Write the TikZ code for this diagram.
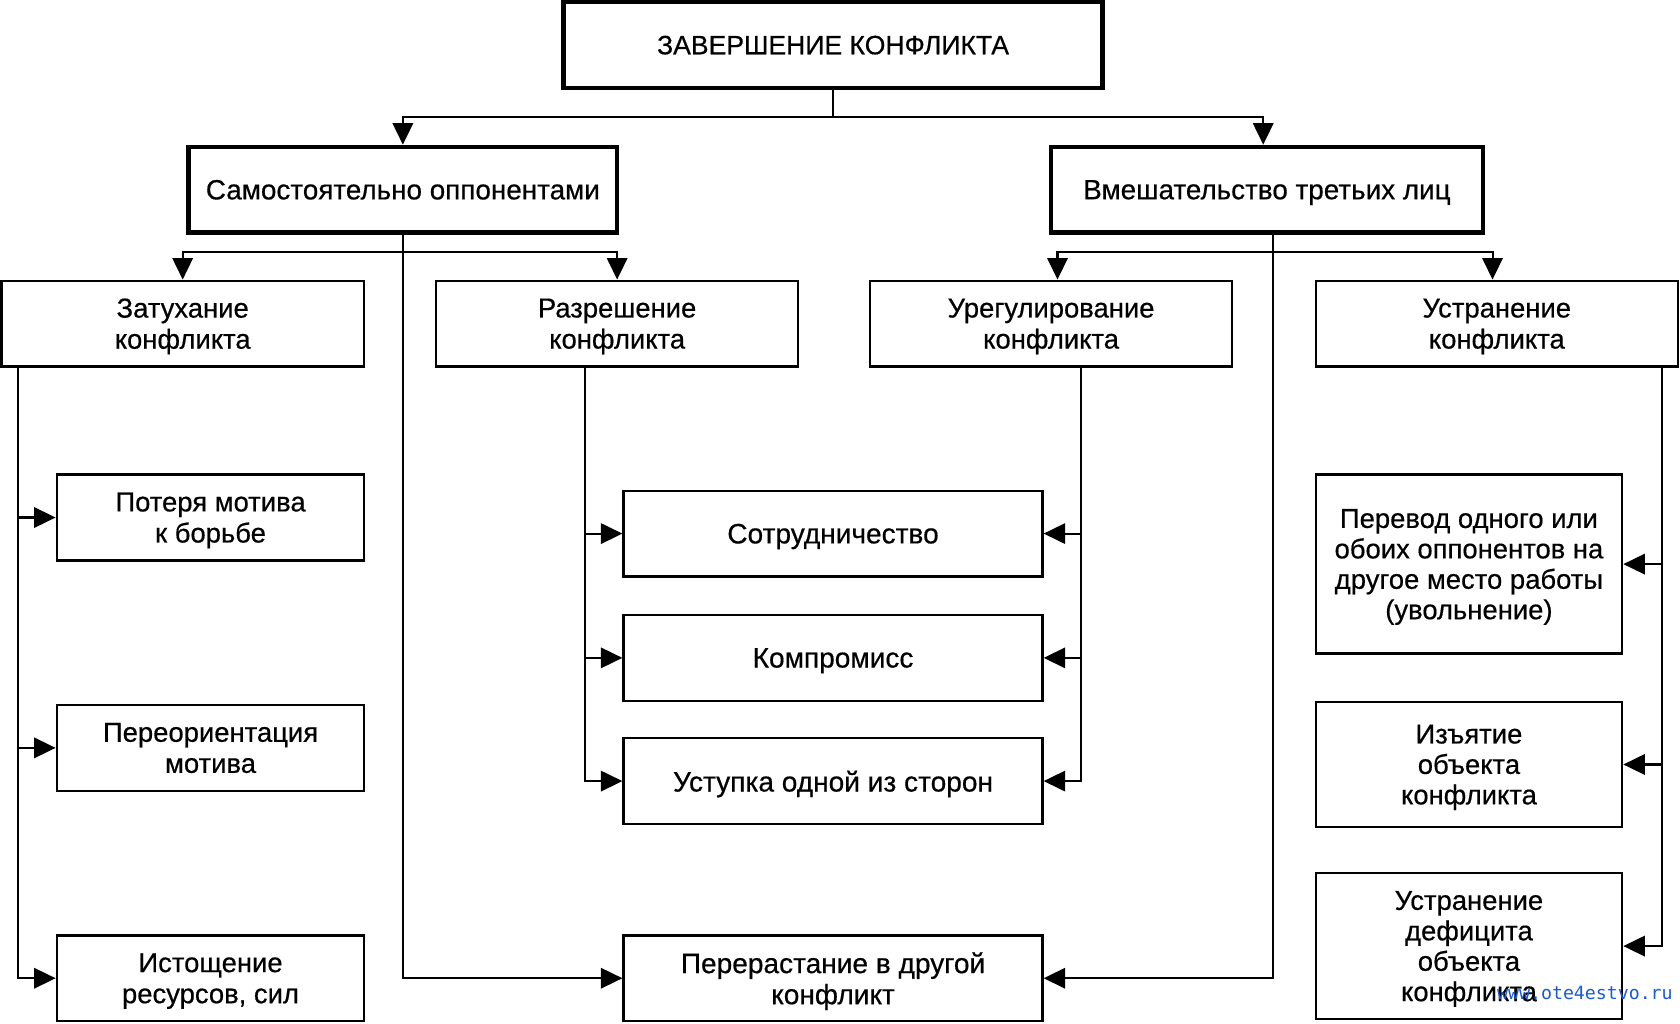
\documentclass[tikz,border=0pt]{standalone}
\usepackage{fontspec}
\setmainfont{Liberation Sans}[FakeBold=0.5]
\newfontfamily\wmfont{DejaVu Sans Mono}
\usetikzlibrary{arrows.meta}
\definecolor{wmblue}{RGB}{25,90,215}
\begin{document}
\begin{tikzpicture}[x=0.5pt,y=-0.5pt,
  box/.style={draw, line width=1.1pt, inner sep=0pt, align=center, text depth=0pt, font=\fontsize{12.8}{14.5}\selectfont},
  bigbox/.style={box, line width=2pt, font=\fontsize{13}{15}\selectfont},
  lthree/.style={box, minimum width=169pt, minimum height=40pt},
  lcol/.style={box, minimum width=143.5pt, minimum height=40pt},
  mcol/.style={box, minimum width=195.5pt, minimum height=40pt, font=\fontsize{13.1}{14.5}\selectfont},
  rcol/.style={box, minimum width=143pt, font=\fontsize{12.8}{14.2}\selectfont},
  arr/.style={line width=0.95pt, -{Triangle[length=10pt,width=9.5pt]}},
  ln/.style={line width=0.95pt}]
\useasboundingbox (0,0) rectangle (1568,955);
% boxes
\node[bigbox, minimum width=251.5pt, minimum height=40pt, font=\fontsize{12.4}{15}\selectfont] (top) at (777.5,42) {ЗАВЕРШЕНИЕ КОНФЛИКТА};
\node[bigbox, minimum width=200pt, minimum height=40pt] (sam) at (376,177) {Самостоятельно оппонентами};
\node[bigbox, minimum width=201.5pt, minimum height=40pt] (vme) at (1182.5,177) {Вмешательство третьих лиц};
\node[lthree] (zat) at (170.5,302) {Затухание\\конфликта};
\node[lthree] (raz) at (576,302) {Разрешение\\конфликта};
\node[lthree] (ureg) at (981,302) {Урегулирование\\конфликта};
\node[lthree] (ustr) at (1397,302) {Устранение\\конфликта};
\node[lcol] (pot) at (196.5,483) {Потеря мотива\\к борьбе};
\node[lcol] (per) at (196.5,698) {Переориентация\\мотива};
\node[lcol] (ist) at (196.5,913) {Истощение\\ресурсов, сил};
\node[mcol] (sotr) at (777.5,498) {Сотрудничество};
\node[mcol] (komp) at (777.5,614) {Компромисс};
\node[mcol] (ust) at (777.5,729) {Уступка одной из сторон};
\node[mcol] (prr) at (777.5,913) {Перерастание в другой\\конфликт};
\node[rcol, minimum height=83.5pt] (prv) at (1371,526.5) {Перевод одного или\\обоих оппонентов на\\другое место работы\\(увольнение)};
\node[rcol, minimum height=58.5pt] (izy) at (1371,713.5) {Изъятие\\объекта\\конфликта};
\node[rcol, minimum height=68pt] (def) at (1371,883) {Устранение\\дефицита\\объекта\\конфликта};
% top level connectors
\draw[ln] (top.south) -- ++(0,25) coordinate (tj);
\draw[arr] (tj) -| (sam.north);
\draw[arr] (tj) -| ([xshift=-1.75pt]vme.north);
% left branch
\draw[arr] (sam.south) |- (prr.west);
\draw[arr] ([yshift=-8pt]sam.south) -| (zat.north);
\draw[arr] ([yshift=-8pt]sam.south) -| (raz.north);
% right branch
\draw[arr] ([xshift=2.75pt]vme.south) |- (prr.east);
\draw[arr] ([xshift=2.75pt,yshift=-8pt]vme.south) -| ([xshift=3pt]ureg.north);
\draw[arr] ([xshift=2.75pt,yshift=-8pt]vme.south) -| ([xshift=-2pt]ustr.north);
% spines
\coordinate (zs) at ([xshift=8pt]zat.south west);
\draw[arr] (zs) |- (ist.west);
\draw[arr] (zs |- pot.west) -- (pot.west);
\draw[arr] (zs |- per.west) -- (per.west);
\coordinate (rs) at ([xshift=70pt]raz.south west);
\draw[arr] (rs) |- (ust.west);
\draw[arr] (rs |- sotr.west) -- (sotr.west);
\draw[arr] (rs |- komp.west) -- (komp.west);
\coordinate (us) at ([xshift=14pt]ureg.south);
\draw[arr] (us) |- (ust.east);
\draw[arr] (us |- sotr.east) -- (sotr.east);
\draw[arr] (us |- komp.east) -- (komp.east);
\coordinate (ts) at ([xshift=-8pt]ustr.south east);
\draw[arr] (ts) |- (def.east);
\draw[arr] (ts |- prv.east) -- (prv.east);
\draw[arr] (ts |- izy.east) -- (izy.east);
% watermark
\node[text=wmblue, font=\wmfont\fontsize{8.5}{10}\selectfont, anchor=west, inner sep=0pt] (wm) at (1397,927) {www.ote4estvo.ru};
\end{tikzpicture}
\end{document}
